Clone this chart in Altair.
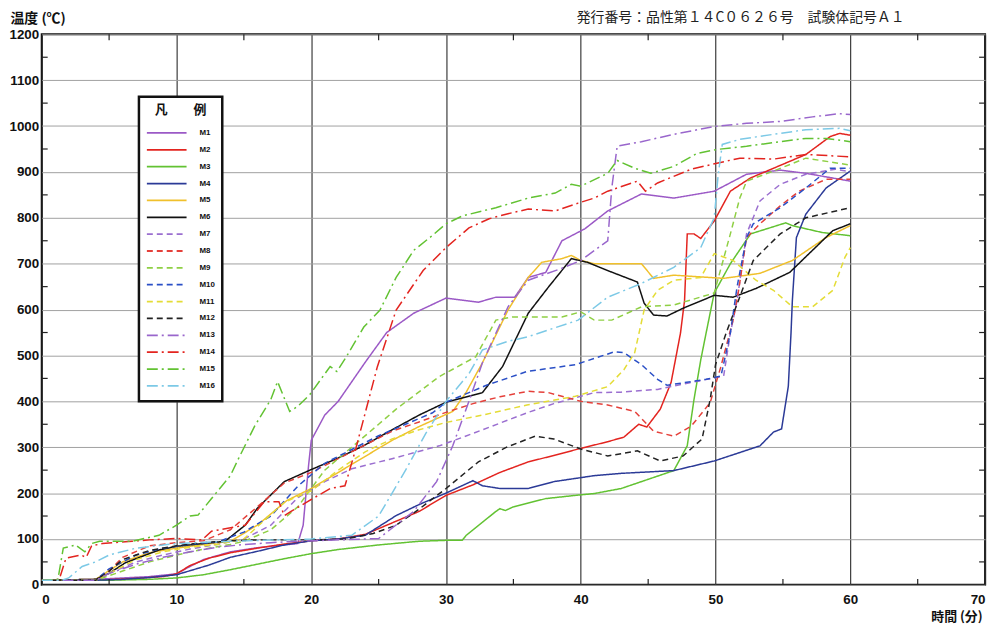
import altair as alt
import pandas as pd

SERIES = ["M1", "M2", "M3", "M4", "M5", "M6", "M7", "M8",
          "M9", "M10", "M11", "M12", "M13", "M14", "M15", "M16"]
COLORS = ["#9b59c6", "#e3241f", "#62c232", "#2b3a97", "#f0c02c", "#111111",
          "#9b6fd0", "#e5403a", "#8fcf44", "#2a4fc6", "#e4dc36", "#222222",
          "#9966cc", "#e3241f", "#62c232", "#7cc9e6"]
SOLID, DASH, DASHDOT = [1, 0], [6, 4], [11, 4, 2, 4]
DASHES = [SOLID] * 6 + [DASH] * 6 + [DASHDOT] * 4

X_TICKS = [0, 10, 20, 30, 40, 50, 60, 70]
Y_TICKS = list(range(0, 1201, 100))
MINOR_X = [5, 15, 25, 35, 45, 55, 65]
MINOR_Y = [50, 150, 250, 350, 450, 550, 650, 750, 850, 950, 1050, 1150]
HEADER = ["発行番号：品性第１４C０６２６号　試験体記号Ａ１"]

M1_t = [0, 4, 6, 8, 10, 11, 12, 14, 16, 18, 19, 19.4, 19.8, 20, 21, 22, 24, 25.6, 27.6, 30, 32.4, 33.7, 35.1, 36.1, 37.4, 38.6, 40.3, 42, 44.5, 46.9, 49.9, 52.3, 54.8, 56.7, 60]
M1_v = [10, 12, 15, 18, 24, 40, 55, 72, 81, 87, 90, 130, 260, 315, 370, 400, 485, 550, 592, 625, 616, 627, 627, 670, 681, 750, 776, 815, 852, 843, 858, 895, 904, 897, 880]
M2_t = [0, 4, 7, 9, 10, 11, 12.4, 14, 16, 18, 20, 22, 24, 26, 28, 30, 32, 34, 36.1, 38, 39.8, 42, 43.2, 44.3, 44.9, 45.9, 46.7, 47.4, 47.7, 47.9, 48.4, 48.9, 49.9, 51.1, 52.6, 54.3, 56.7, 58.5, 59.2, 60]
M2_v = [10, 10, 14, 18, 24, 42, 58, 70, 80, 89, 96, 100, 110, 135, 160, 195, 218, 245, 268, 282, 296, 312, 322, 350, 344, 383, 441, 549, 620, 765, 765, 755, 793, 858, 887, 908, 938, 977, 984, 980]
M3_t = [0, 5, 8, 10, 12, 14, 16, 18, 20, 22, 25, 28, 30, 31.2, 31.5, 33.7, 34, 34.4, 35, 37.4, 39.6, 41, 43, 45, 46.9, 47.9, 48.4, 48.9, 49.3, 49.9, 51.1, 52.6, 55.2, 55.7, 57.9, 60]
M3_v = [10, 10, 12, 15, 22, 33, 45, 57, 68, 77, 87, 95, 97, 97, 108, 160, 166, 162, 170, 188, 195, 199, 210, 230, 249, 303, 404, 490, 549, 636, 700, 765, 789, 783, 768, 761]
M4_t = [0, 4, 6, 8, 10, 12.4, 14, 16, 18, 20, 22, 24, 26.3, 28, 30, 32, 32.7, 34, 36.1, 38, 41, 43, 46.9, 49.9, 53.3, 54.3, 54.9, 55.4, 55.6, 55.7, 56, 56.7, 58.2, 60]
M4_v = [10, 10, 12, 16, 22, 43, 60, 73, 87, 96, 100, 108, 151, 175, 200, 227, 216, 210, 210, 225, 238, 243, 249, 270, 303, 333, 340, 433, 549, 620, 757, 808, 865, 902]
M5_t = [0, 4, 6, 8, 10, 12, 14, 16, 18.2, 20, 22, 24, 26, 28, 30.5, 31.5, 32.7, 34.6, 36.1, 37.1, 38.6, 39.3, 40, 41, 44.5, 45.4, 46.9, 50.6, 53.3, 55.7, 58.2, 60]
M5_v = [10, 12, 50, 70, 80, 88, 95, 130, 184, 210, 245, 280, 315, 345, 378, 420, 484, 599, 670, 703, 711, 718, 707, 700, 700, 668, 675, 668, 679, 707, 757, 783]
M6_t = [0, 4, 5, 6.2, 8.7, 10, 13.6, 15.1, 16, 18, 19.9, 21.9, 24, 26, 28, 30, 32.7, 34.2, 36.1, 37.6, 39.3, 40.5, 42, 44.2, 44.7, 45.4, 46.4, 47.6, 49.9, 51.3, 53, 55.5, 57.4, 58.7, 60]
M6_v = [10, 12, 25, 48, 76, 84, 95, 130, 167, 225, 250, 275, 305, 338, 370, 398, 419, 476, 592, 649, 711, 703, 685, 660, 614, 588, 586, 603, 631, 627, 646, 681, 735, 772, 787]
M7_t = [0, 4, 5, 7, 9, 11, 13, 15, 17, 19, 21, 23, 26, 29.5, 32, 36.1, 38, 41, 43, 45.7, 48, 50.6, 51.1, 51.6, 52.3, 53.3, 54.8, 56.7, 58.9, 60]
M7_v = [10, 10, 25, 50, 65, 78, 88, 100, 130, 190, 225, 253, 275, 303, 330, 376, 395, 419, 420, 426, 440, 455, 549, 620, 765, 837, 873, 895, 906, 900]
M8_t = [0, 4, 5, 6, 8, 10, 12, 14, 16, 18, 20, 22, 24, 26, 28, 30, 32, 34, 36.1, 37.6, 40, 42, 44, 45.4, 46.9, 48.2, 49.6, 50.4, 51.3, 51.7, 52.3, 53.3, 54.8, 56.2, 58.2, 60]
M8_v = [10, 10, 30, 60, 85, 92, 96, 120, 170, 222, 245, 275, 305, 335, 355, 376, 395, 410, 422, 419, 400, 392, 378, 335, 324, 346, 397, 476, 577, 640, 757, 787, 826, 858, 884, 884]
M9_t = [0, 4, 6, 8, 10, 12, 14, 15, 17, 19, 21, 23, 25, 26.3, 29.5, 32.2, 33.7, 34.9, 38.6, 40, 41, 42.3, 44.5, 46.9, 49.9, 51.1, 51.8, 52.3, 54.3, 56.7, 60]
M9_v = [10, 10, 30, 50, 65, 78, 88, 95, 120, 170, 250, 300, 350, 383, 454, 497, 577, 584, 584, 595, 577, 577, 606, 610, 636, 765, 843, 880, 902, 930, 915]
M10_t = [0, 4, 5, 7, 9, 11, 13, 15, 17, 19, 21, 23, 25, 27, 29, 30, 33, 36, 39.6, 42.5, 43.2, 44.5, 45.7, 46.4, 49.3, 50.4, 51.1, 51.6, 52.3, 52.8, 54.8, 56.7, 58.5, 60]
M10_v = [10, 10, 35, 65, 80, 88, 93, 115, 150, 215, 265, 295, 325, 350, 375, 398, 435, 465, 480, 508, 506, 480, 448, 435, 448, 455, 549, 650, 757, 787, 822, 865, 908, 908]
M11_t = [0, 4, 5, 7, 9, 11, 13, 15, 18, 20, 22, 24, 26, 28, 30, 33, 36, 39.6, 42, 43.2, 44, 44.7, 45.7, 46.9, 48.9, 49.9, 51.3, 53, 54.3, 55.7, 57.2, 58.7, 59.6, 60]
M11_v = [10, 10, 25, 55, 72, 82, 88, 100, 180, 205, 250, 290, 318, 338, 354, 372, 392, 411, 432, 469, 506, 599, 642, 664, 670, 722, 707, 664, 642, 606, 606, 642, 714, 735]
M12_t = [0, 4, 5, 6, 8, 10, 12, 14, 16, 20, 22.6, 24.6, 26.3, 28, 30, 32.4, 34.5, 36.6, 38, 40, 42, 44.2, 45.9, 47.6, 49, 49.6, 50, 50.8, 51.7, 52.8, 54.8, 56.7, 60]
M12_v = [10, 10, 30, 55, 75, 85, 92, 96, 98, 98, 100, 112, 130, 165, 210, 268, 300, 324, 318, 296, 281, 292, 270, 281, 318, 404, 480, 550, 620, 707, 765, 800, 822]
M13_t = [0, 4, 5, 7, 9, 11, 13, 15, 17, 19, 25, 27.6, 29.3, 30.5, 31.7, 32.7, 34.6, 36.1, 38.6, 40, 42, 42.3, 42.7, 44.5, 46.9, 49.9, 52.3, 54.8, 57.2, 59.2, 60]
M13_v = [10, 10, 25, 45, 60, 72, 82, 88, 92, 95, 101, 160, 225, 303, 400, 484, 606, 664, 690, 707, 750, 865, 956, 966, 982, 999, 1006, 1010, 1020, 1027, 1025]
M14_t = [0, 1.3, 1.8, 2.9, 3.3, 3.7, 4.5, 6.7, 8, 10, 11.9, 12.6, 15.1, 16.5, 17.6, 18, 18.5, 19.7, 21.4, 22.5, 22.7, 23.3, 24.9, 26.3, 28.3, 30, 31.7, 33.2, 34.6, 36.1, 38.1, 39.8, 41, 42, 44.2, 44.8, 45.7, 48.2, 50.1, 51.8, 54.3, 56.7, 60]
M14_v = [10, 12, 58, 65, 60, 85, 90, 95, 98, 101, 98, 117, 130, 181, 181, 151, 160, 181, 210, 216, 235, 296, 475, 599, 685, 735, 778, 798, 809, 819, 815, 832, 843, 858, 880, 858, 876, 906, 919, 930, 928, 938, 933]
M15_t = [0, 1.2, 1.6, 2.5, 3.2, 3.7, 4.3, 6.7, 8.7, 10, 11, 11.6, 12.6, 14, 14.6, 15.8, 17, 17.5, 18.4, 19, 19.9, 21.4, 21.9, 22.6, 23.9, 25.1, 26.3, 27.6, 28.8, 30, 31.2, 33.7, 36.1, 38.1, 39.3, 40, 42, 42.7, 44, 45.2, 46.9, 48.6, 50.1, 52.3, 54.8, 56.7, 58.2, 60]
M15_v = [10, 12, 80, 87, 72, 90, 95, 95, 108, 130, 150, 152, 188, 238, 275, 346, 404, 443, 378, 389, 415, 476, 465, 497, 562, 599, 670, 729, 757, 787, 804, 822, 843, 854, 873, 869, 897, 925, 908, 897, 912, 940, 949, 956, 966, 973, 973, 966]
M16_t = [0, 1.5, 2, 3, 4, 5, 7, 10, 14, 20, 23, 25, 27, 28.5, 30, 31.7, 32.7, 34.5, 36.1, 39.8, 42, 44.5, 46.9, 48.9, 49.9, 50.2, 50.5, 51.8, 54.3, 56.7, 59.2, 60]
M16_v = [10, 10, 15, 40, 50, 65, 80, 90, 95, 100, 108, 150, 250, 330, 400, 460, 512, 530, 541, 577, 627, 657, 692, 735, 800, 895, 960, 971, 982, 992, 995, 990]

DATA = {
    "M1": (M1_t, M1_v), "M2": (M2_t, M2_v), "M3": (M3_t, M3_v), "M4": (M4_t, M4_v),
    "M5": (M5_t, M5_v), "M6": (M6_t, M6_v), "M7": (M7_t, M7_v), "M8": (M8_t, M8_v),
    "M9": (M9_t, M9_v), "M10": (M10_t, M10_v), "M11": (M11_t, M11_v), "M12": (M12_t, M12_v),
    "M13": (M13_t, M13_v), "M14": (M14_t, M14_v), "M15": (M15_t, M15_v), "M16": (M16_t, M16_v),
}

rows = []
for name in SERIES:
    ts, vs = DATA[name]
    assert len(ts) == len(vs), name
    for i, (t, v) in enumerate(zip(ts, vs)):
        rows.append({"series": name, "t": t, "v": v, "i": i})
df = pd.DataFrame(rows)

NUM_FONT = "Liberation Sans"
CJK = "Noto Sans CJK JP"

W, H = 951, 555
x_scale = alt.Scale(domain=[0, 70], nice=False, zero=False)
y_scale = alt.Scale(domain=[0, 1200], nice=False)

x_axis = alt.Axis(
    values=X_TICKS, format="d", grid=True, gridColor="#2a2a2a", gridWidth=1.1,
    ticks=False, domain=False, labelFont=NUM_FONT, labelFontSize=13.5,
    labelFontWeight="bold", labelColor="#111", labelPadding=8,
    title="時間 (分)", titleFont=CJK, titleFontSize=13, titleFontWeight="bold",
    titleColor="#111", titleX=W - 3, titleY=32, titleAlign="right",
    titleBaseline="middle")
y_axis = alt.Axis(
    values=Y_TICKS, format="d", grid=True, gridColor="#a0a0a0", gridWidth=1,
    ticks=False, domain=False, labelFont=NUM_FONT, labelFontSize=13.5,
    labelFontWeight="bold", labelColor="#111", labelPadding=3,
    title="温度 (℃)", titleFont=CJK, titleFontSize=14, titleFontWeight="bold",
    titleColor="#111", titleAngle=0, titleAlign="left", titleBaseline="middle",
    titleX=-32, titleY=-16)

lines = alt.Chart(df).mark_line(strokeWidth=1.5, clip=True).encode(
    x=alt.X("t:Q", scale=x_scale, axis=x_axis),
    y=alt.Y("v:Q", scale=y_scale, axis=y_axis),
    color=alt.Color("series:N", sort=SERIES,
                    scale=alt.Scale(domain=SERIES, range=COLORS),
                    legend=alt.Legend(
                        title="凡　　例", orient="none", legendX=98, legendY=63,
                        symbolType="stroke", symbolSize=1600, symbolStrokeWidth=1.8,
                        clipHeight=16.9, rowPadding=0, labelFont=NUM_FONT,
                        labelFontSize=8, labelFontWeight="bold", labelColor="#111",
                        labelOffset=12, padding=7, strokeColor="#111",
                        fillColor="white", titleFont=CJK, titleFontSize=13,
                        titleFontWeight="bold", titleColor="#111",
                        titleAnchor="middle", titlePadding=8)),
    strokeDash=alt.StrokeDash("series:N", sort=SERIES,
                              scale=alt.Scale(domain=SERIES, range=DASHES)),
    order="i:Q",
)

tx = pd.DataFrame({"t": MINOR_X})
ty = pd.DataFrame({"v": MINOR_Y})
top_ticks = alt.Chart(tx).mark_rule(color="#222", strokeWidth=1.2).encode(
    x=alt.X("t:Q", scale=x_scale, axis=x_axis), y=alt.value(0), y2=alt.value(6))
bot_ticks = alt.Chart(tx).mark_rule(color="#222", strokeWidth=1.2).encode(
    x=alt.X("t:Q", scale=x_scale, axis=x_axis), y=alt.value(H - 6), y2=alt.value(H))
left_ticks = alt.Chart(ty).mark_rule(color="#222", strokeWidth=1.2).encode(
    y=alt.Y("v:Q", scale=y_scale, axis=y_axis), x=alt.value(0), x2=alt.value(6))
right_ticks = alt.Chart(ty).mark_rule(color="#222", strokeWidth=1.2).encode(
    y=alt.Y("v:Q", scale=y_scale, axis=y_axis), x=alt.value(W - 6), x2=alt.value(W))

header = alt.Chart(pd.DataFrame({"label": HEADER})).mark_text(
    align="right", baseline="middle", font=CJK, fontSize=14, color="#222"
).encode(text="label:N", x=alt.value(W - 81), y=alt.value(-16))

chart = alt.layer(lines, top_ticks, bot_ticks, left_ticks, right_ticks, header).properties(
    width=W, height=H,
    autosize="none",
    padding={"left": 34, "top": 24, "right": 10, "bottom": 42},
    background="white",
).configure_view(stroke="#111", strokeWidth=2).configure_legend(strokeWidth=2.5)

chart.save("out.html", embed_options={"renderer": "svg", "actions": False})
